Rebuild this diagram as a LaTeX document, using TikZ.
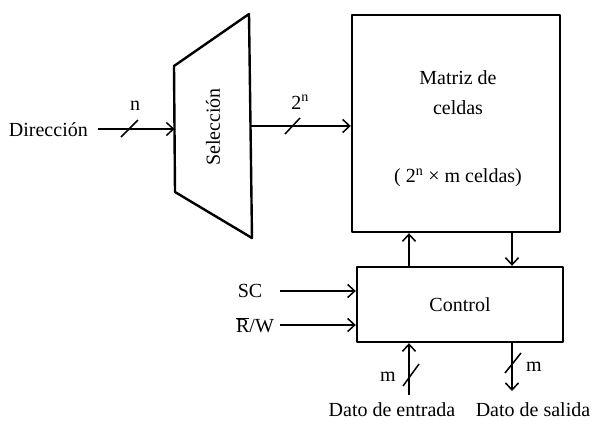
\documentclass[tikz,border=0pt]{standalone}
\usepackage{fontspec}
\setmainfont{Liberation Serif}
\usetikzlibrary{arrows.meta}
\begin{document}
\begin{tikzpicture}[x=1pt,y=-1pt,
  font=\fontsize{20}{24}\selectfont,
  box/.style={draw, line width=2.4pt, line join=round},
  conn/.style={line width=1.5pt, -{Straight Barb[length=7pt,width=13pt,line width=1.5pt]}},
  slash/.style={line width=1.5pt},
  lbl/.style={inner sep=0pt}]
\useasboundingbox (0,0) rectangle (598,421);
\fill[white] (0,0) rectangle (598,421);
% selection trapezoid
\coordinate (s1) at (174,66);
\coordinate (s2) at (249,14);
\coordinate (s3) at (252,238);
\coordinate (s4) at (175,192);
\draw[box] (s1) -- (s2) -- (s3) -- (s4) -- cycle;
\node[rotate=90] (sel) at (213,127) {Selección};
\coordinate (selin) at (174.5,129);
\coordinate (selout) at (250.5,126);
% matrix
\node[box, minimum width=208pt, minimum height=217pt, inner sep=0pt] (mat) at (456,123.5) {};
\node[lbl] (m1) at (458,78) {Matriz de};
\node[lbl] (m2) at (458,108) {celdas};
\node[lbl] (m3) at (458,178) {( 2\textsuperscript{n} × m celdas)};
% control
\node[box, minimum width=206pt, minimum height=75pt, inner sep=0pt] (ctl) at (460,304.5) {Control};
% inputs
\node[lbl, anchor=east] (dir) at (88,130) {Dirección};
\draw[conn] ([xshift=10pt]dir.east |- selin) -- (selin);
\draw[slash] (121,137) -- (138,120);
\node[lbl] (nl) at (135,106) {n};
\draw[conn] (selout) -- (mat.west |- selout);
\draw[slash] (285,134) -- (300,118);
\node[lbl] (tn) at (300,102) {2\textsuperscript{n}};
% matrix <-> control
\coordinate (up) at (409,0);
\coordinate (dn) at (512,0);
\draw[conn] (ctl.north -| up) -- (mat.south -| up);
\draw[conn] (mat.south -| dn) -- (ctl.north -| dn);
% SC and R/W
\node[lbl] (sc) at (250,291) {SC};
\node[lbl] (rw) at (255,325) {$\overline{\mbox{R}}$/W};
\coordinate (scs) at (280,291);
\coordinate (rws) at (280,325);
\draw[conn] (scs) -- (ctl.west |- scs);
\draw[conn] (rws) -- (ctl.west |- rws);
% data
\coordinate (de) at (409,395);
\coordinate (ds) at (512,391);
\draw[conn] (de) -- (ctl.south -| de);
\draw[conn] (ctl.south -| ds) -- (ds);
\draw[slash] (403,386) -- (419,364);
\node[lbl] (ml1) at (388,377) {m};
\draw[slash] (505,373) -- (521,353);
\node[lbl] (ml2) at (534,367) {m};
\node[lbl] (dent) at (392,410) {Dato de entrada};
\node[lbl] (dsal) at (533,410) {Dato de salida};
\end{tikzpicture}
\end{document}
